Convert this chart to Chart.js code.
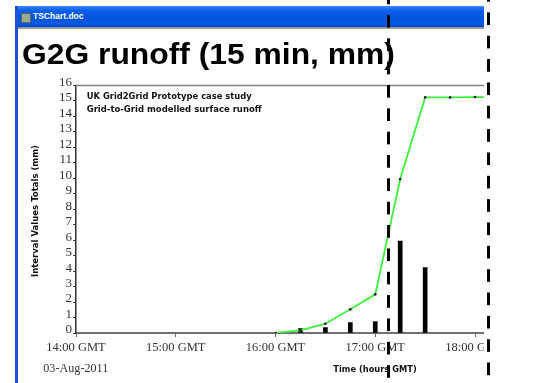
<!DOCTYPE html>
<html><head><meta charset="utf-8">
<script src="https://cdn.jsdelivr.net/npm/chart.js@4.4.0/dist/chart.umd.min.js"></script>
<style>
html,body{margin:0;padding:0;background:#fff;}
#wrap{position:relative;width:558px;height:383px;overflow:hidden;background:#fff;}
#titlebar{position:absolute;left:15px;top:6px;width:469px;height:21px;background:linear-gradient(#3d8af7 0%,#0a5ee8 22%,#0453dc 60%,#0a5ae4 85%,#0442c4 100%);}
#titlebar span{position:absolute;left:18px;top:5px;color:#fff;font:bold 8.5px "Liberation Sans";line-height:10px;}
#icon{position:absolute;left:6px;top:7px;width:8px;height:8px;background:#9aa890;border:1px solid #5a6a55;}
#lborder{position:absolute;left:15px;top:6px;width:3px;height:377px;background:#1c52d4;}
#topline{position:absolute;left:18px;top:27px;width:466px;height:2px;background:#9a9a9a;}
#title{position:absolute;left:22px;top:39.5px;font:bold 29px "Liberation Sans";line-height:29px;color:#000;white-space:nowrap;transform:scaleX(1.097);transform-origin:0 0;}
#c{position:absolute;left:0;top:0;}
#mask{position:absolute;left:484px;top:0;width:74px;height:383px;background:#fff;}
.dash{position:absolute;top:0;width:3px;height:383px;background-image:linear-gradient(#000 0,#000 12.7px,transparent 12.7px);background-size:3px 23.35px;background-repeat:repeat-y;}
</style></head>
<body>
<div id="wrap">
  <div id="titlebar"><div id="icon"></div><span>TSChart.doc</span></div>
  <div id="lborder"></div>
  <div id="topline"></div>
  <canvas id="c" width="558" height="383"></canvas>
  <div id="title">G2G runoff (15 min, mm)</div>
  <div id="mask"></div>
  <div class="dash" style="left:387.3px;background-position:0 15px;"></div>
  <div class="dash" style="left:487.2px;background-position:0 12.4px;"></div>
</div>
<script>
// ---- data ----
const lineTimes = ['16:00','16:15','16:30','16:45','17:00','17:15','17:30','17:45','18:00','18:15'];
const cumulativeRunoff = [0, 0.17, 0.6, 1.53, 2.5, 9.95, 15.23, 15.23, 15.25, 15.25];
const barTimes = ['16:15','16:30','16:45','17:00','17:15','17:30'];
const intervalRunoff = [0.28, 0.35, 0.67, 0.74, 5.95, 4.23];
const xTickLabels = ['14:00 GMT','15:00 GMT','16:00 GMT','17:00 GMT','18:00 GMT'];
const yTickLabels = ['0','1','2','3','4','5','6','7','8','9','10','11','12','13','14','15','16'];
const annotationLines = ['UK Grid2Grid Prototype case study','Grid-to-Grid modelled surface runoff'];
const yTitle = 'Interval Values Totals (mm)';
const xTitle = 'Time (hours GMT)';
const dateLabel = '03-Aug-2011';

const toMin = t => { const p = t.split(':').map(Number); return (p[0]-14)*60 + p[1]; };

function fitText(ctx, text, x, y, w, font, color) {
  ctx.save();
  ctx.font = font;
  const m = ctx.measureText(text).width;
  ctx.translate(x, y);
  ctx.scale(w / m, 1);
  ctx.textAlign = 'left';
  ctx.textBaseline = 'middle';
  ctx.fillStyle = color;
  ctx.fillText(text, 0, 0);
  ctx.restore();
}

const decor = {
  id: 'decor',
  beforeDatasetsDraw(chart) {
    const {ctx, chartArea: a} = chart;
    ctx.save();
    ctx.strokeStyle = '#808080';
    ctx.lineWidth = 1.5;
    ctx.beginPath();
    ctx.moveTo(a.left, a.top);
    ctx.lineTo(a.right, a.top);
    ctx.stroke();
    ctx.restore();
    const f = 'bold 9px "DejaVu Sans"';
    fitText(ctx, annotationLines[0], 86.7, 96.7, 165, f, '#111');
    fitText(ctx, annotationLines[1], 86.7, 110, 175, f, '#111');
  },
  afterDraw(chart) {
    const ctx = chart.ctx;
    fitText(ctx, xTitle, 333.3, 370, 83.4, 'bold 8.5px "DejaVu Sans"', '#111');
    fitText(ctx, dateLabel, 43.3, 368.3, 65, '12.5px "Liberation Serif"', '#333');
    ctx.save();
    ctx.translate(35.5, 211);
    ctx.rotate(-Math.PI / 2);
    fitText(ctx, yTitle, -66, 0, 132, 'bold 8.5px "DejaVu Sans"', '#111');
    ctx.restore();
  }
};

new Chart(document.getElementById('c'), {
  type: 'bar',
  data: {
    datasets: [
      {
        type: 'line',
        data: lineTimes.map((t, i) => ({x: toMin(t), y: cumulativeRunoff[i]})),
        borderColor: '#3cf03c',
        borderWidth: 1.8,
        pointRadius: 1.3,
        pointBackgroundColor: '#222',
        pointBorderWidth: 0,
        tension: 0,
        order: 0
      },
      {
        type: 'bar',
        data: barTimes.map((t, i) => ({x: toMin(t), y: intervalRunoff[i]})),
        backgroundColor: '#000',
        barThickness: 4,
        order: 1
      }
    ]
  },
  options: {
    responsive: false,
    animation: false,
    devicePixelRatio: 1,
    layout: {padding: {left: 40, top: 85.5, right: 74, bottom: 30}},
    plugins: {legend: {display: false}, tooltip: {enabled: false}, title: {display: false}},
    scales: {
      x: {
        type: 'linear', min: 0, max: 245.4, offset: false,
        grid: {display: true, drawOnChartArea: false, drawTicks: true, tickLength: 4, color: '#666', offset: false},
        border: {color: '#707070', width: 2},
        ticks: {stepSize: 60, includeBounds: false, autoSkip: false, maxRotation: 0, color: '#333',
                font: {family: 'Liberation Serif', size: 12.5}, padding: 3,
                callback: v => xTickLabels[Math.round(v / 60)]},
        afterFit: s => { s.height = 20; }
      },
      y: {
        min: 0, max: 16,
        grid: {drawOnChartArea: false, drawTicks: true, tickLength: 3, color: '#444'},
        border: {color: '#333', width: 1.5},
        ticks: {stepSize: 1, autoSkip: false, color: '#333', font: {family: 'Liberation Serif', size: 13}, padding: 1,
                labelOffset: -3, callback: v => yTickLabels[v]},
        afterFit: s => { s.width = 36; }
      }
    }
  },
  plugins: [decor]
});
</script>
</body></html>
